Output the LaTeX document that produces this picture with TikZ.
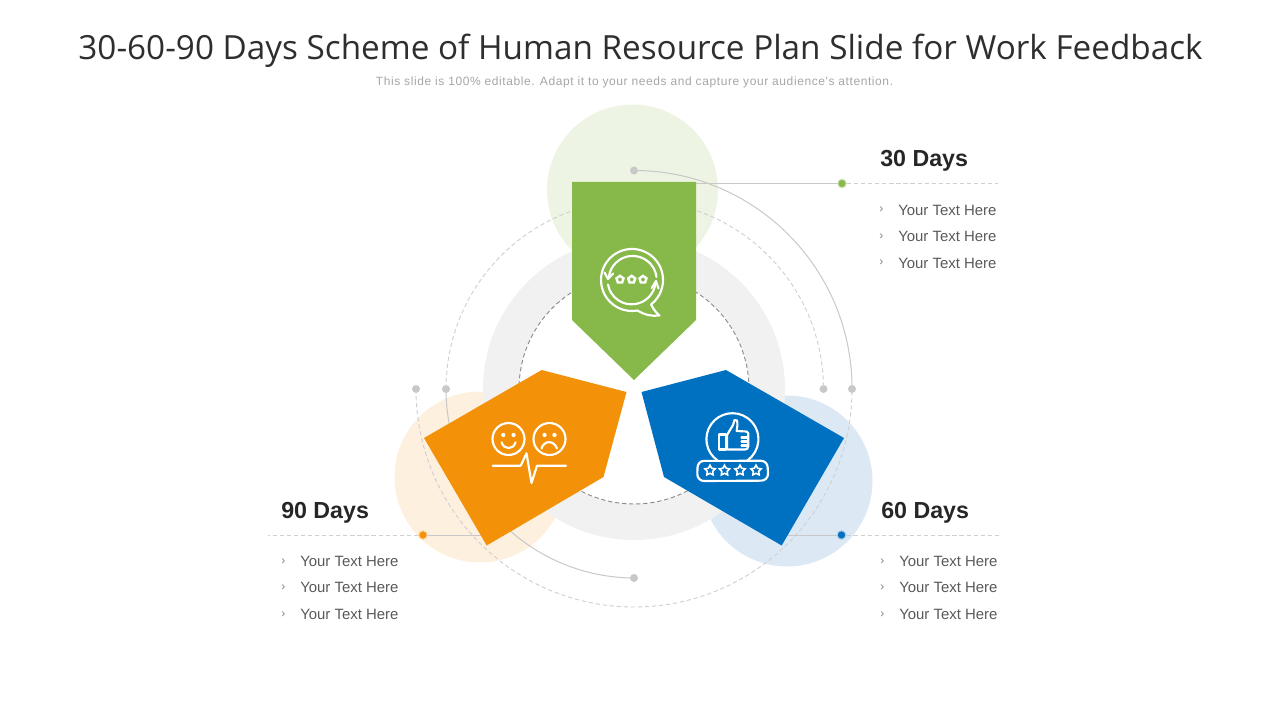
\documentclass[tikz,border=0pt]{standalone}
\usepackage{fontspec}
\setmainfont{Liberation Sans}
\newfontfamily\titlefont{Open Sans}
\newfontfamily\subfont[LetterSpace=4.9]{Liberation Sans}
\usetikzlibrary{shapes.geometric}
\definecolor{cgreen}{HTML}{86B94A}
\definecolor{corange}{HTML}{F39208}
\definecolor{cblue}{HTML}{0070C0}
\definecolor{lgreen}{HTML}{EDF4E3}
\definecolor{lorange}{HTML}{FDF0DF}
\definecolor{lblue}{HTML}{DCE9F5}
\definecolor{cring}{HTML}{F1F1F1}
\definecolor{cdot}{HTML}{C8C8C8}
\definecolor{cdash}{HTML}{D0D0D0}
\tikzset{
  softdisc/.style={circle,inner sep=0pt,minimum size=128.25pt,draw=none},
  graydot/.style={circle,inner sep=0pt,minimum size=6pt,fill=cdot,draw=none},
  mark dot/.style={circle,inner sep=0pt,minimum size=6.5pt,draw=#1!35,line width=.8pt,fill=#1},
  solidline/.style={draw=cdot,line width=.75pt},
  dashline/.style={draw=cdash,line width=.7pt,dash pattern=on 3.2pt off 2.1pt},
  iconline/.style={draw=white,line width=1.6pt,line cap=round,line join=round},
  headtext/.style={anchor=west,inner sep=0pt,font=\fontsize{17.4}{18}\selectfont\bfseries,text=black!85},
  itemtext/.style={anchor=west,inner sep=0pt,font=\fontsize{11.2}{12}\selectfont,text=black!65},
  chevtext/.style={anchor=west,inner sep=0pt,font=\fontsize{9}{10}\selectfont,text=black!50},
  hollowstar/.style={star,star points=5,star point ratio=1.9,inner sep=0pt,minimum size=8pt,draw=white,line width=1.2pt},
  tinystar/.style={regular polygon,regular polygon sides=5,inner sep=0pt,minimum size=5.5pt,draw=white,line width=1.8pt,fill=cgreen},
}
\begin{document}
\begin{tikzpicture}[x=.75pt,y=-.75pt]
\useasboundingbox (0,0) rectangle (1280,720);
% title
\node[inner sep=0pt,font=\titlefont\fontsize{24.95}{26}\selectfont,text=black!82] (title) at (640.5,51) {30-60-90 Days Scheme of Human Resource Plan Slide for Work Feedback};
\node[inner sep=0pt,font=\subfont\fontsize{9}{10}\selectfont,text=black!35] (subtitle) at (634.5,82) {This slide is 100\% editable. Adapt it to your needs and capture your audience's attention.};
% background discs
\node[softdisc,fill=lgreen] (discg) at (632.5,190) {};
\node[softdisc,fill=lorange] (disco) at (480,477) {};
\node[softdisc,fill=lblue] (discb) at (787,481) {};
% ring
\coordinate (C) at (634,389);
\fill[cring,even odd rule] (C) circle[radius=113.25pt] (C) circle[radius=86.25pt];
\draw[dashline,draw=black!45] (C) circle[radius=86.25pt];
% dots
\node[graydot] (top)  at (634,170.5) {};
\node[graydot] (bot)  at (634,578) {};
\node[graydot] (l1)   at (416,389) {};
\node[graydot] (l2)   at (446,389) {};
\node[graydot] (r1)   at (823.5,389) {};
\node[graydot] (r2)   at (852,389) {};
% arcs
\draw[solidline] (top.center) arc[start angle=90,end angle=0,radius=163.5pt];
\draw[dashline] (l1.center) arc[start angle=180,end angle=360,radius=163.5pt];
\draw[solidline] (l2.center) arc[start angle=180,end angle=270,radius=141.75pt];
\draw[dashline] (l2.center) arc[start angle=180,end angle=0,radius=141.56pt];
% connector dots and lines
\node[mark dot=cgreen] (mg) at (842,183.5) {};
\node[mark dot=corange] (mo) at (423,535) {};
\node[mark dot=cblue] (mb) at (841.5,535) {};
\coordinate (eg) at (998,183.5);
\coordinate (eo) at (268,535);
\coordinate (eb) at (1000,535);
\coordinate (sg) at (690,183.5);
\coordinate (so) at (490,535);
\coordinate (sb) at (778,535);
\draw[solidline] (sg) -- (mg);
\draw[solidline] (so) -- (mo);
\draw[solidline] (sb) -- (mb);
\draw[dashline] (mg) -- (eg);
\draw[dashline] (mo) -- (eo);
\draw[dashline] (mb) -- (eb);
% arrows
\fill[cgreen] (572,182) -- (696,182) -- (696,320) -- (634,380) -- (572,320) -- cycle;
\fill[corange] (541.7,370) -- (626.5,392) -- (603.5,477) -- (486.7,545.5) -- (424,438) -- cycle;
\fill[cblue] (726,370) -- (844,438) -- (781.7,545.5) -- (664,477) -- (641.5,392) -- cycle;
% green icon
\draw[iconline] (637.4,310.5) arc[start angle=-80,end angle=-412,radius=23.25pt]
   .. controls (652,306) and (654,311) .. (659.5,315.5) .. controls (652,316.5) and (645,315) .. (637.4,310.5);
\draw[iconline] (656.5,277) arc[start angle=7,end angle=172,radius=18pt];
\draw[iconline] (608,284.5) arc[start angle=190,end angle=352,radius=18pt];
\draw[iconline] (604.5,272.5) -- (608,279) -- (613,273.5);
\draw[iconline] (651.7,288) -- (656,281) -- (658.5,288.5);
\foreach \n/\x in {a/620,b/631.7,c/643}{\node[tinystar] (gs\n) at (\x,279.5) {};}
% orange icon
\draw[iconline] (508.5,439) circle[radius=12pt];
\draw[iconline] (549.5,439) circle[radius=12pt];
\fill[white] (503.3,435) circle[radius=1.6pt] (513.6,435) circle[radius=1.6pt] (544.5,435) circle[radius=1.6pt] (554.5,435) circle[radius=1.6pt];
\draw[iconline] (501.7,442.3) .. controls (503.5,450) and (513.5,450) .. (515.5,442.3);
\draw[iconline] (541.5,448.5) .. controls (544,440) and (554,440) .. (557,448.5);
\draw[iconline] (492.7,465.7) -- (520.7,465.7) -- (526.5,453.3) -- (531.5,483) -- (537,465.7) -- (566,465.7);
% blue icon
\draw[iconline] (717.5,460.5) arc[start angle=-125,end angle=-415,radius=19.5pt];
\draw[iconline] (697.5,467.5) arc[start angle=180,end angle=90,radius=5pt] -- (761,460.8) arc[start angle=90,end angle=0,radius=5pt] -- (768,474) arc[start angle=0,end angle=-90,radius=5pt] -- (704,481) arc[start angle=270,end angle=180,radius=5pt] -- cycle;
\draw[iconline] (719,434.5) rectangle (726,449.5);
\draw[iconline] (727,449.5) -- (727,435) -- (733,425) -- (734.5,420) -- (737,420.5) .. controls (738,424) and (737,428) .. (736.7,431) -- (746.5,431.5) .. controls (748.5,432) and (748.5,434) .. (748.3,436) -- (748.3,446) .. controls (748,448.5) and (747,449.5) .. (745,449.5) -- cycle;
\draw[iconline] (741.5,437.5) -- (748,437.5) (741.5,441.5) -- (748,441.5) (741.5,445.5) -- (748,445.5);
\foreach \n/\x in {a/710,b/724.5,c/740,d/756}{\node[hollowstar] (bs\n) at (\x,470.5) {};}
% headings
\node[headtext] (h30) at (880,160.5) {30 Days};
\node[headtext] (h60) at (881,512.5) {60 Days};
\node[headtext] (h90) at (281,512.5) {90 Days};
% lists
\foreach \n/\y in {a/210,b/236.5,c/263}{
  \node[chevtext] (cg\n) at (879,\y) {›};
  \node[itemtext] (tg\n) at (898,\y) {Your Text Here};
}
\foreach \n/\y in {a/561.5,b/587.5,c/614.5}{
  \node[chevtext] (co\n) at (281,\y) {›};
  \node[itemtext] (to\n) at (300,\y) {Your Text Here};
  \node[chevtext] (cb\n) at (880,\y) {›};
  \node[itemtext] (tb\n) at (899,\y) {Your Text Here};
}
\end{tikzpicture}
\end{document}
